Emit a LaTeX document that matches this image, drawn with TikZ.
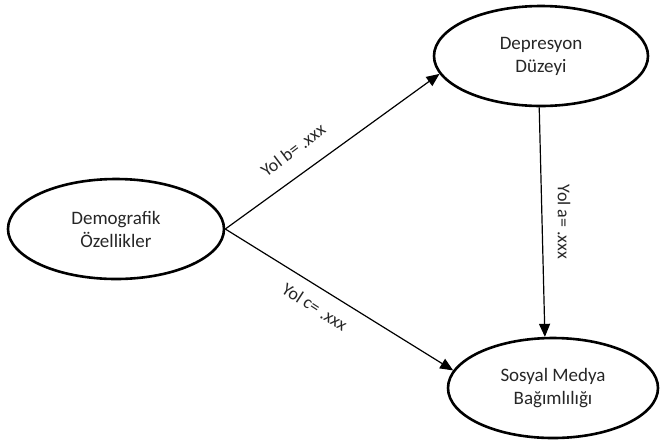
\documentclass[tikz,border=0pt]{standalone}
\usepackage{fontspec}
\setmainfont{Carlito}
\usetikzlibrary{shapes.geometric,arrows.meta}
\begin{document}
\begin{tikzpicture}[x=1pt,y=-1pt,
  oval/.style={ellipse,draw=black,line width=2.6pt,minimum width=#1,minimum height=100pt,inner sep=0pt,align=center,font=\fontsize{19}{23}\selectfont,text=black!85},
  path/.style={draw=black,line width=1.2pt,-{Triangle[length=13pt,width=11pt]}},
  lbl/.style={font=\fontsize{18}{21}\selectfont,text=black!85}]
\useasboundingbox (0,0) rectangle (660,445);
\node[oval=216pt] (dem) at (116,229) {Demografik\\Özellikler};
\node[oval=214pt] (dep) at (541,56) {Depresyon\\Düzeyi};
\node[oval=210pt] (sos) at (553,388) {Sosyal Medya\\Bağımlılığı};
\draw[path] (dem.east) -- (dep.190);
\draw[path] (dem.east) -- (sos.170);
\draw[path] (dep.268) -- (sos.99);
\node[lbl,rotate=37] (lb) at (293,150) {Yol b= .xxx};
\node[lbl,rotate=-33] (lc) at (315,307) {Yol c= .xxx};
\node[lbl,rotate=-90] (la) at (564,222) {Yol a= .xxx};
\end{tikzpicture}
\end{document}
